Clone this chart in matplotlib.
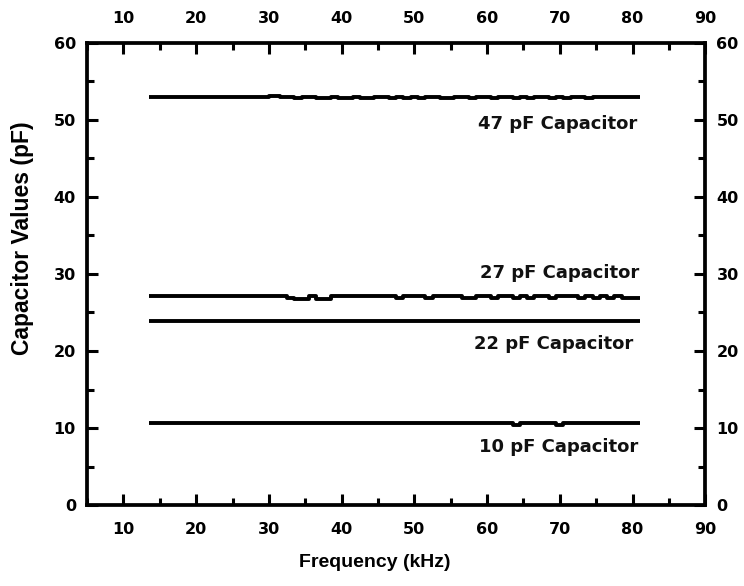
import numpy as np
import matplotlib
matplotlib.use("Agg")
import matplotlib.pyplot as plt
from matplotlib.ticker import MultipleLocator

plt.rcParams['font.family'] = ['Liberation Sans', 'DejaVu Sans']
plt.rcParams['font.weight'] = 'bold'

# frequency sweep, kHz
freq = [13.5, 15, 17, 19, 21, 23, 25, 27, 29, 31, 32, 33, 34, 35, 36, 37, 38,
        39, 40, 41, 42, 43, 44, 45, 46, 47, 48, 49, 50, 51, 52, 53, 54, 55,
        56, 57, 58, 59, 60, 61, 62, 63, 64, 65, 66, 67, 68, 69, 70, 71, 72,
        73, 74, 75, 76, 77, 78, 79, 80, 81]

# measured capacitance, pF
cap_47 = [53.0, 53.0, 53.0, 53.0, 53.0, 53.0, 53.0, 53.0, 53.0, 53.1, 53.0,
          53.0, 52.8, 52.9, 53.0, 52.8, 52.8, 53.0, 52.8, 52.8, 53.0, 52.8,
          52.8, 52.9, 53.0, 52.8, 52.9, 52.8, 52.9, 52.8, 52.9, 53.0, 52.8,
          52.8, 52.9, 53.0, 52.8, 52.9, 53.0, 52.8, 53.0, 52.9, 52.8, 53.0,
          52.8, 52.9, 53.0, 52.8, 52.9, 52.8, 53.0, 52.9, 52.8, 53.0, 53.0,
          53.0, 53.0, 53.0, 53.0, 53.0]
cap_27 = [27.1, 27.1, 27.1, 27.1, 27.1, 27.1, 27.1, 27.1, 27.1, 27.1, 27.2,
          26.9, 26.8, 26.8, 27.1, 26.8, 26.8, 27.1, 27.1, 27.1, 27.1, 27.1,
          27.1, 27.1, 27.1, 27.1, 26.9, 27.1, 27.1, 27.1, 26.9, 27.1, 27.1,
          27.1, 27.1, 26.9, 26.9, 27.1, 27.1, 26.9, 27.1, 27.1, 26.9, 27.1,
          26.9, 27.1, 27.1, 26.9, 27.1, 27.1, 27.1, 26.9, 27.1, 26.9, 27.1,
          26.9, 27.1, 26.9, 26.9, 26.9]
cap_22 = [23.9] * len(freq)
cap_10 = [10.6, 10.6, 10.6, 10.6, 10.6, 10.6, 10.6, 10.6, 10.6, 10.7, 10.6,
          10.6, 10.6, 10.6, 10.7, 10.6, 10.6, 10.6, 10.6, 10.6, 10.6, 10.6,
          10.6, 10.7, 10.6, 10.6, 10.6, 10.6, 10.6, 10.6, 10.6, 10.6, 10.6,
          10.6, 10.6, 10.6, 10.6, 10.6, 10.6, 10.6, 10.6, 10.6, 10.4, 10.6,
          10.7, 10.6, 10.6, 10.6, 10.4, 10.6, 10.6, 10.6, 10.6, 10.6, 10.6,
          10.6, 10.6, 10.6, 10.6, 10.6]

series = [cap_47, cap_27, cap_22, cap_10]
labels = ['47 pF Capacitor', '27 pF Capacitor', '22 pF Capacitor', '10 pF Capacitor']
label_pos = [(80.7, 49.4), (80.9, 30.1), (80.1, 20.9), (80.8, 7.5)]

wide = ['DejaVu Sans']

fig = plt.figure(figsize=(7.44, 5.86), dpi=100)
ax = fig.add_axes([0.117, 0.138, 0.831, 0.789])

for ys in series:
    ax.plot(freq, ys, color='black', lw=2.8, drawstyle='steps-mid',
            solid_capstyle='butt')

for txt, (x, y) in zip(labels, label_pos):
    ax.text(x, y, txt, ha='right', va='center', fontsize=13,
            fontweight='bold', family=wide, color='#111111')

ax.set_xlim(5, 90)
ax.set_ylim(0, 60)
ax.xaxis.set_major_locator(MultipleLocator(10))
ax.xaxis.set_minor_locator(MultipleLocator(5))
ax.yaxis.set_major_locator(MultipleLocator(10))
ax.yaxis.set_minor_locator(MultipleLocator(5))
ax.set_xticks(range(10, 91, 10))

for s in ax.spines.values():
    s.set_linewidth(2.7)

ax.tick_params(which='both', direction='in', top=True, right=True,
               labeltop=True, labelright=True, width=2.2, labelsize=11.5)
ax.tick_params(axis='x', pad=12)
ax.tick_params(axis='y', pad=8)
ax.tick_params(which='major', length=8)
ax.tick_params(which='minor', length=5)
for lab in ax.get_xticklabels() + ax.get_yticklabels():
    lab.set_fontweight('bold')
    lab.set_family(wide)

ax.set_xlabel('Frequency (kHz)', fontsize=14, fontweight='bold')
ax.set_ylabel('Capacitor Values (pF)', fontsize=16.5, fontweight='bold')
ax.xaxis.set_label_coords(0.465, -0.105)
ax.yaxis.set_label_coords(-0.085, 0.578)

fig.savefig('out.png', dpi=100)
